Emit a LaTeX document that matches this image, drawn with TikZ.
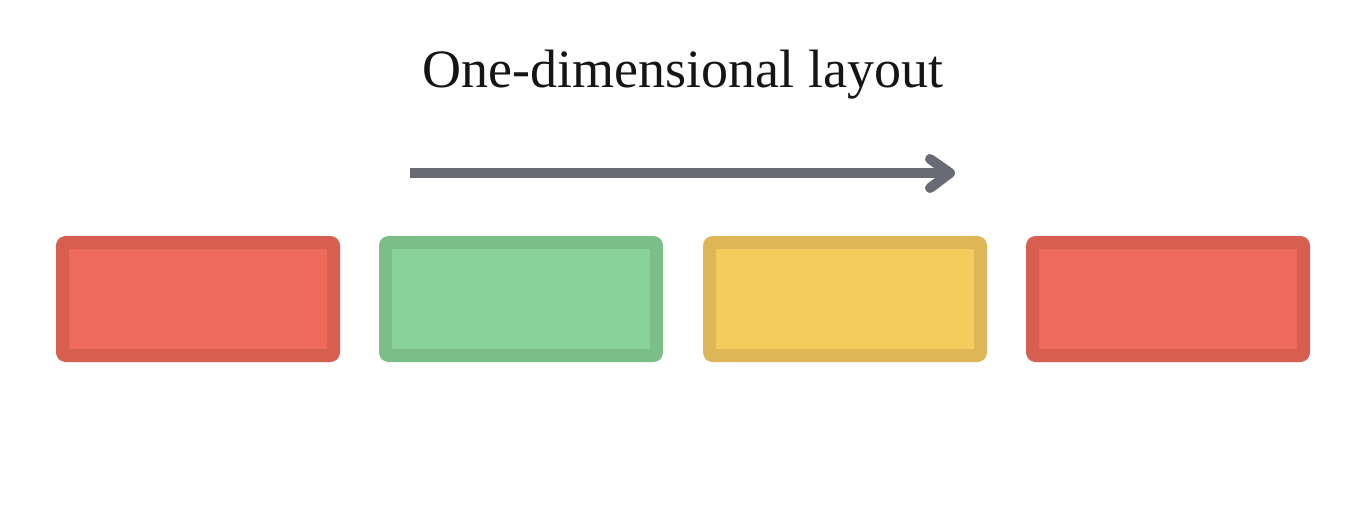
\documentclass[tikz,border=0pt]{standalone}
\usepackage{fontspec}
\setmainfont{Liberation Serif}
\definecolor{redfill}{HTML}{EE6A5B}
\definecolor{redline}{HTML}{D65F50}
\definecolor{greenfill}{HTML}{8AD398}
\definecolor{greenline}{HTML}{7BBE88}
\definecolor{yellowfill}{HTML}{F4CB5C}
\definecolor{yellowline}{HTML}{DEB656}
\definecolor{arrowgray}{HTML}{686B73}
\definecolor{textblack}{HTML}{151515}
\begin{document}
\begin{tikzpicture}[x=1pt,y=-1pt,
  cell/.style={draw, line width=13pt, rounded corners=3pt, inner sep=0pt,
    minimum width=271pt, minimum height=113pt, line join=round},
  flow/.style={draw=arrowgray, line width=10pt, line cap=round, line join=round}]
\useasboundingbox (0,0) rectangle (1366,525);
\fill[white] (0,0) rectangle (1366,525);
\node[anchor=base, text=textblack, font=\fontsize{54}{64}\selectfont] (title) at (683,87) {One-dimensional layout};
\node[cell, draw=redline, fill=redfill] (c1) at (198,299) {};
\node[cell, draw=greenline, fill=greenfill] (c2) at (521,299) {};
\node[cell, draw=yellowline, fill=yellowfill] (c3) at (845,299) {};
\node[cell, draw=redline, fill=redfill] (c4) at (1168,299) {};
\coordinate (a0) at (410,173);
\coordinate (a1) at (950,173);
\coordinate (h1) at (930,159);
\coordinate (h2) at (930,188);
\draw[flow, line cap=butt] (a0) -- (a1);
\draw[flow] (h1) -- (a1) -- (h2);
\end{tikzpicture}
\end{document}
